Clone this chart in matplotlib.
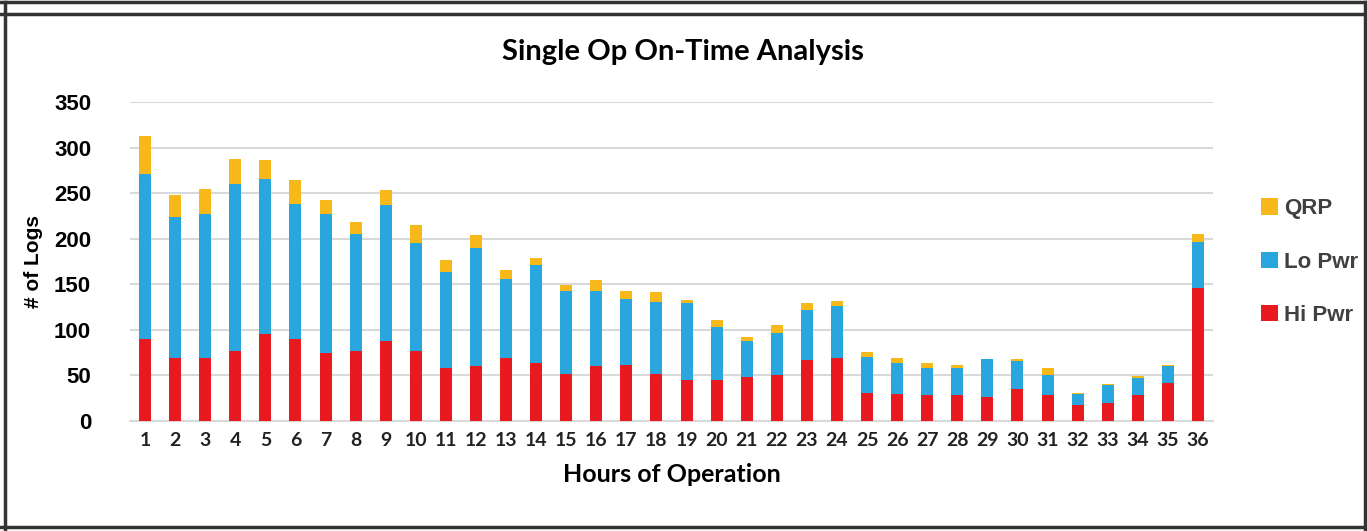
"""
Single Op On-Time Analysis: stacked bars of log counts per hour of operation.
"""

import numpy as np
import matplotlib.pyplot as plt
from matplotlib.lines import Line2D

hours = np.arange(1, 37)
hour_labels = [str(h) for h in hours]

hi_pwr = [90, 69, 69, 77, 96, 90, 75, 77, 88, 77, 58, 60,
          69, 64, 52, 60, 61, 52, 45, 45, 48, 50, 67, 69,
          31, 30, 28, 28, 26, 35, 28, 18, 20, 28, 42, 146]
lo_pwr = [181, 155, 158, 183, 170, 148, 152, 128, 149, 118, 105, 130,
          87, 107, 91, 83, 73, 79, 85, 58, 40, 47, 55, 57,
          39, 34, 30, 30, 42, 31, 22, 12, 19, 19, 18, 50]
qrp = [42, 24, 27, 27, 20, 26, 16, 13, 16, 20, 14, 14,
       10, 8, 6, 12, 9, 10, 3, 8, 4, 8, 8, 6,
       6, 5, 6, 3, 0, 2, 8, 1, 2, 2, 1, 9]

yticks = [0, 50, 100, 150, 200, 250, 300, 350]

RED = "#E8191F"
BLUE = "#2AA6DF"
YELLOW = "#F7B81A"

fig = plt.figure(figsize=(13.67, 5.31), dpi=100)
ax = fig.add_axes([130 / 1367, 110 / 531, 1083 / 1367, 319 / 531])

hi = np.array(hi_pwr)
lo = np.array(lo_pwr)
q = np.array(qrp)
w = 0.4
b1 = ax.bar(hours, hi, width=w, color=RED, label="Hi Pwr", zorder=3)
b2 = ax.bar(hours, lo, width=w, bottom=hi, color=BLUE, label="Lo Pwr", zorder=3)
b3 = ax.bar(hours, q, width=w, bottom=hi + lo, color=YELLOW, label="QRP", zorder=3)

ax.set_xlim(0.5, 36.5)
ax.set_ylim(0, 350)
ax.set_yticks(yticks)
ax.set_yticklabels([str(t) for t in yticks], fontsize=16, fontweight="bold",
                   family="Liberation Sans")
ax.set_xticks(hours)
ax.set_xticklabels(hour_labels, fontsize=14, fontweight="bold", family="Lato",
                   color="#222222")
ax.tick_params(axis="both", length=0)
ax.tick_params(axis="y", pad=28)
ax.tick_params(axis="x", pad=8)
ax.grid(axis="y", color="#D9D9D9", linewidth=1.5, zorder=0)
for side in ["top", "right", "left"]:
    ax.spines[side].set_visible(False)
ax.spines["bottom"].set_color("#D9D9D9")
ax.spines["bottom"].set_linewidth(1.5)

ax.set_xlabel("Hours of Operation", fontsize=18, fontweight="bold", family="Lato",
              labelpad=10)
ax.set_ylabel("# of Logs", fontsize=15, fontweight="bold", family="Liberation Sans",
              labelpad=8)
fig.text(683 / 1367, 1 - 52 / 531, "Single Op On-Time Analysis", ha="center",
         va="center", fontsize=21, fontweight="bold", family="Lato")

leg = fig.legend(handles=[b3, b2, b1], labels=["QRP", "Lo Pwr", "Hi Pwr"],
                 loc="center left", bbox_to_anchor=(1261 / 1367, 1 - 262 / 531),
                 frameon=False, handlelength=0.75, handleheight=0.75,
                 handletextpad=0.3, labelspacing=1.45, borderpad=0,
                 borderaxespad=0,
                 prop={"family": "Liberation Sans", "weight": "bold", "size": 16})
for t in leg.get_texts():
    t.set_color("#404040")

# outer frame
frame_kw = dict(transform=fig.transFigure, color="#333333", linewidth=2.5)
fig.add_artist(Line2D([5 / 1367, 5 / 1367], [0, 1 - 2 / 531], **frame_kw))
fig.add_artist(Line2D([1365 / 1367, 1365 / 1367], [0, 1 - 2 / 531], **frame_kw))
fig.add_artist(Line2D([0, 1], [1 - 2 / 531, 1 - 2 / 531], **frame_kw))
fig.add_artist(Line2D([0, 1], [1 - 14 / 531, 1 - 14 / 531], **frame_kw))
fig.add_artist(Line2D([0, 1], [1 - 527 / 531, 1 - 527 / 531], **frame_kw))

fig.savefig("out.png", dpi=100)
plt.close(fig)
